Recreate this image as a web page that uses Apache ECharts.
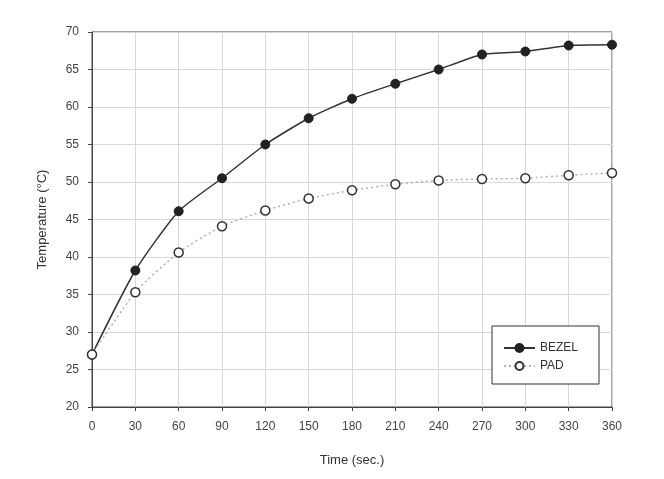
<!DOCTYPE html>
<html>
<head>
<meta charset="utf-8">
<script src="https://cdn.jsdelivr.net/npm/echarts@6/dist/echarts.min.js"></script>
<style>html,body{margin:0;padding:0;background:#fff}#c{width:664px;height:479px}</style>
</head>
<body>
<div id="c"></div>
<script>
const times = [0, 30, 60, 90, 120, 150, 180, 210, 240, 270, 300, 330, 360];
const bezel = [27.0, 38.2, 46.1, 50.5, 55.0, 58.5, 61.1, 63.1, 65.0, 67.0, 67.4, 68.2, 68.3];
const pad = [27.0, 35.3, 40.6, 44.1, 46.2, 47.8, 48.9, 49.7, 50.2, 50.4, 50.5, 50.9, 51.2];
const yTicks = [20, 25, 30, 35, 40, 45, 50, 55, 60, 65, 70];
const xTicks = [0, 30, 60, 90, 120, 150, 180, 210, 240, 270, 300, 330, 360];

const chart = echarts.init(document.getElementById('c'));
const font = 'Liberation Sans, Arial, sans-serif';
chart.setOption({
  backgroundColor: '#fff',
  animation: false,
  textStyle: { fontFamily: font },
  grid: { left: 92, right: 52, top: 32, bottom: 72, show: true, borderColor: '#444', borderWidth: 1, backgroundColor: 'transparent' },
  legend: {
    right: 65, top: 326,
    orient: 'vertical',
    itemWidth: 31, itemHeight: 10, itemGap: 6,
    padding: [16, 21, 12, 11],
    borderColor: '#333', borderWidth: 1,
    backgroundColor: '#fff',
    textStyle: { fontFamily: font, fontSize: 12, color: '#333' },
    data: ['BEZEL', 'PAD']
  },
  xAxis: {
    type: 'value', min: xTicks[0], max: xTicks[xTicks.length - 1], interval: 30,
    name: 'Time (sec.)', nameLocation: 'middle', nameGap: 47,
    nameTextStyle: { fontFamily: font, fontSize: 13, color: '#333' },
    axisLine: { show: true, lineStyle: { color: '#444', width: 1 } },
    axisTick: { show: true, length: 4, lineStyle: { color: '#444' } },
    axisLabel: { fontFamily: font, fontSize: 12, color: '#444', margin: 14 },
    splitLine: { show: true, lineStyle: { color: '#d8d8d8', width: 1 } }
  },
  yAxis: {
    type: 'value', min: yTicks[0], max: yTicks[yTicks.length - 1], interval: 5,
    name: 'Temperature (°C)', nameLocation: 'middle', nameGap: 43, nameRotate: 90,
    nameTextStyle: { fontFamily: font, fontSize: 13, color: '#333' },
    axisLine: { show: true, lineStyle: { color: '#444', width: 1 } },
    axisTick: { show: true, length: 4, lineStyle: { color: '#444' } },
    axisLabel: { fontFamily: font, fontSize: 12, color: '#444', margin: 13 },
    splitLine: { show: true, lineStyle: { color: '#d8d8d8', width: 1 } }
  },
  series: [
    {
      name: 'BEZEL', type: 'line', smooth: 0.2, clip: false,
      data: times.map((t, i) => [t, bezel[i]]),
      symbol: 'circle', symbolSize: 9,
      lineStyle: { color: '#333', width: 1.5 },
      itemStyle: { color: '#222', borderColor: '#222', borderWidth: 1 }
    },
    {
      name: 'PAD', type: 'line', smooth: 0.2, clip: false,
      data: times.map((t, i) => [t, pad[i]]),
      symbol: 'circle', symbolSize: 9,
      lineStyle: { color: '#b0b0b0', width: 1.5, type: [2, 3] },
      itemStyle: { color: '#fff', borderColor: '#333', borderWidth: 1.5 }
    }
  ]
});
</script>
</body>
</html>
